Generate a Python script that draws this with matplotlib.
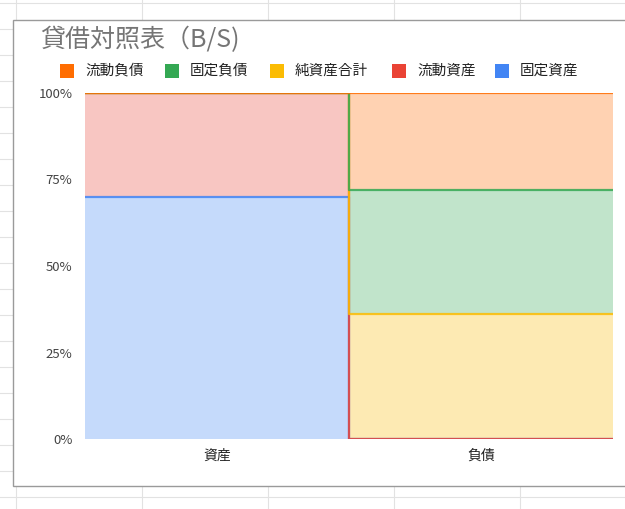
import numpy as np
import matplotlib
matplotlib.use("Agg")
import matplotlib.pyplot as plt
from matplotlib.lines import Line2D
from matplotlib.patches import Rectangle

plt.rcParams['font.family'] = ['Noto Sans CJK JP', 'DejaVu Sans']

# data
categories = ['資産', '負債']
series_names = ['固定資産', '流動資産', '純資産合計', '固定負債', '流動負債']  # bottom -> top
series_colors = ['#4285F4', '#EA4335', '#FBBC04', '#34A853', '#FF6D01']
fixed_assets = [70, 0]
current_assets = [30, 0]
net_assets = [0, 36]
fixed_liab = [0, 36]
current_liab = [0, 28]
legend_order = ['流動負債', '固定負債', '純資産合計', '流動資産', '固定資産']
yticks = [0, 0.25, 0.5, 0.75, 1.0]
ytick_labels = ['0%', '25%', '50%', '75%', '100%']
title = '貸借対照表（B/S)'

W, H = 625, 509
fig = plt.figure(figsize=(W / 100, H / 100), dpi=100)
fig.patch.set_facecolor('white')

def px(x, y):
    return x / W, 1 - y / H

# spreadsheet cell grid behind the chart
for y in range(3, H, 26):
    fig.add_artist(Line2D([0, 1], [1 - y / H] * 2, color='#e2e2e2', lw=0.8, zorder=0))
for x in [16, 142, 268, 394, 520]:
    fig.add_artist(Line2D([x / W] * 2, [0, 1], color='#e2e2e2', lw=0.8, zorder=0))

# chart box
x0, y0 = px(13, 486)
fig.add_artist(Rectangle((x0, y0), 1.2, (486 - 20) / H, transform=fig.transFigure,
                         facecolor='white', edgecolor='#9a9a9a', lw=1.0, zorder=1))

ax = fig.add_axes([85 / W, (H - 439) / H, (613 - 85) / W, (439 - 93) / H], zorder=2)
ax.set_facecolor('none')

vals = np.array([fixed_assets, current_assets, net_assets, fixed_liab, current_liab], dtype=float)
shares = vals / vals.sum(axis=0)
xs = np.arange(len(categories) + 1)
bottom = np.zeros(len(categories))
tops = []
for i, name in enumerate(series_names):
    top = bottom + shares[i]
    lo = np.append(bottom, bottom[-1])
    hi = np.append(top, top[-1])
    ax.fill_between(xs, lo, hi, step='post', color=series_colors[i], alpha=0.3, lw=0)
    tops.append(hi)
    bottom = top
for i, hi in enumerate(tops):
    ax.step(xs, hi, where='post', color=series_colors[i], lw=1.6, alpha=0.85,
            solid_capstyle='butt')

ax.set_xlim(0, len(categories))
ax.set_ylim(0, 1)
ax.set_yticks(yticks)
ax.set_yticklabels(ytick_labels, fontsize=9.5, color='#444444')
ax.set_xticks(np.arange(len(categories)) + 0.5)
ax.set_xticklabels(categories, fontsize=10, color='#222222')
ax.tick_params(length=0, axis='y', pad=9)
ax.tick_params(length=0, axis='x', pad=7)
for s in ax.spines.values():
    s.set_visible(False)

fig.text(40 / W, 1 - 40 / H, title, fontsize=18, color='#757575', va='center', ha='left')

# legend
leg_x = [60, 165, 270, 392, 495]
color_of = dict(zip(series_names, series_colors))
for lx, name in zip(leg_x, legend_order):
    fx, fy = px(lx, 78)
    fig.add_artist(Rectangle((fx, fy), 14 / W, 14 / H, transform=fig.transFigure,
                             facecolor=color_of[name], edgecolor='none', zorder=3))
    fig.text((lx + 25) / W, 1 - 71 / H, name, fontsize=10.5, color='#222222',
             va='center', ha='left')

fig.savefig('out.png', dpi=100)
